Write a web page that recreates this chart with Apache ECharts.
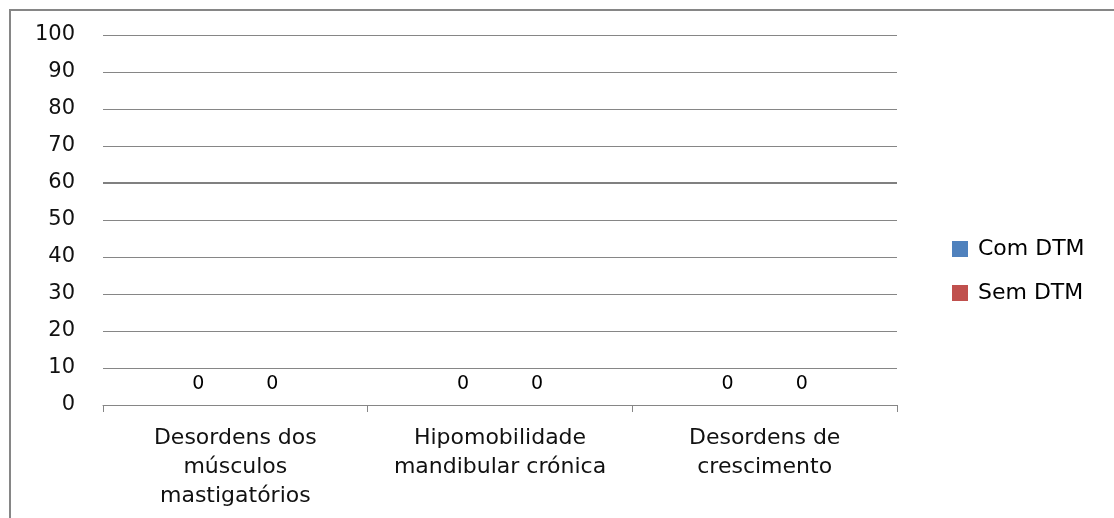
<!DOCTYPE html>
<html>
<head>
<meta charset="utf-8">
<script src="https://cdn.jsdelivr.net/npm/echarts@6/dist/echarts.min.js"></script>
<style>
  html, body { margin: 0; padding: 0; background: #fff; }
  #main { width: 1114px; height: 518px; }
</style>
</head>
<body>
<div id="main"></div>
<script>
var categories = [
    'Desordens dos\nmúsculos\nmastigatórios',
    'Hipomobilidade\nmandibular crónica',
    'Desordens de\ncrescimento'
];
var comDTM = [0, 0, 0];
var semDTM = [0, 0, 0];
var yTicks = [0, 100, 10]; // min, max, interval

var chart = echarts.init(document.getElementById('main'));

var font = 'DejaVu Sans';

var option = {
    animation: false,
    backgroundColor: '#fff',
    textStyle: { fontFamily: font },
    graphic: [{
        type: 'rect',
        shape: { x: 10, y: 10, width: 1200, height: 600 },
        style: { fill: 'none', stroke: '#868686', lineWidth: 2 },
        silent: true
    }],
    grid: {
        left: 103,
        right: 217,
        top: 35,
        bottom: 113
    },
    legend: {
        orient: 'vertical',
        left: 947,
        top: 233,
        itemWidth: 16,
        itemHeight: 16,
        itemGap: 22,
        icon: 'rect',
        textStyle: {
            fontSize: 22,
            lineHeight: 20,
            color: '#000',
            fontFamily: font,
            padding: [0, 0, 0, 5]
        },
        data: ['Com DTM', 'Sem DTM']
    },
    xAxis: {
        type: 'category',
        data: categories,
        axisLine: { lineStyle: { color: '#868686', width: 1 } },
        axisTick: { show: true, interval: 0, length: 7, lineStyle: { color: '#868686' } },
        axisLabel: {
            interval: 0,
            fontSize: 22,
            lineHeight: 29,
            margin: 19,
            color: '#111',
            fontFamily: font
        }
    },
    yAxis: {
        type: 'value',
        min: yTicks[0],
        max: yTicks[1],
        interval: yTicks[2],
        axisLine: { show: false },
        axisTick: { show: false },
        splitLine: { lineStyle: { color: '#868686', width: 1 } },
        axisLabel: {
            fontSize: 21,
            margin: 28,
            color: '#111',
            fontFamily: font
        }
    },
    series: [{
        name: 'Com DTM',
        type: 'bar',
        data: comDTM,
        barGap: '0%',
        barCategoryGap: '44%',
        itemStyle: { color: '#4F81BD' },
        label: {
            show: true,
            position: 'top',
            distance: 11,
            fontSize: 19,
            color: '#000',
            fontFamily: font
        },
        markLine: {
            silent: true,
            symbol: 'none',
            label: { show: false },
            lineStyle: { color: '#808080', width: 2, type: 'solid' },
            data: [{ yAxis: 60 }]
        }
    }, {
        name: 'Sem DTM',
        type: 'bar',
        data: semDTM,
        barGap: '0%',
        barCategoryGap: '44%',
        itemStyle: { color: '#C0504D' },
        label: {
            show: true,
            position: 'top',
            distance: 11,
            fontSize: 19,
            color: '#000',
            fontFamily: font
        }
    }]
};

chart.setOption(option);
</script>
</body>
</html>
